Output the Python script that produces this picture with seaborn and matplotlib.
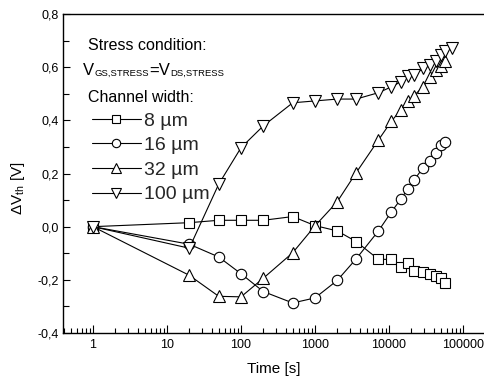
import numpy as np
import pandas as pd
import matplotlib
matplotlib.use("Agg")
import matplotlib.pyplot as plt
import seaborn as sns
from matplotlib.ticker import FixedLocator, FuncFormatter, LogLocator, NullFormatter, MultipleLocator

sns.set_theme(style="white")
plt.rcParams['font.family'] = ['Liberation Sans', 'DejaVu Sans']
plt.rcParams['mathtext.fontset'] = 'custom'
plt.rcParams['mathtext.rm'] = 'Liberation Sans'
plt.rcParams['mathtext.it'] = 'Liberation Sans'

# ---- data (time in s, delta Vth in V) ----
t_8 = [1, 20, 50, 100, 200, 500, 1000, 2000, 3600, 7200, 10800, 14400, 18000, 21600,
       28800, 36000, 43200, 50400, 57600]
v_8 = [0.0, 0.015, 0.024, 0.024, 0.024, 0.038, 0.004, -0.016, -0.056, -0.123, -0.123,
       -0.150, -0.135, -0.165, -0.172, -0.179, -0.184, -0.194, -0.213]

t_16 = [1, 20, 50, 100, 200, 500, 1000, 2000, 3600, 7200, 10800, 14400, 18000, 21600,
        28800, 36000, 43200, 50400, 57600]
v_16 = [0.0, -0.066, -0.114, -0.177, -0.244, -0.287, -0.268, -0.202, -0.121, -0.016, 0.056,
        0.103, 0.143, 0.174, 0.221, 0.247, 0.276, 0.307, 0.318]

t_32 = [1, 20, 50, 100, 200, 500, 1000, 2000, 3600, 7200, 10800, 14400, 18000, 21600,
        28800, 36000, 43200, 50400, 57600]
v_32 = [0.0, -0.183, -0.262, -0.264, -0.194, -0.098, 0.003, 0.094, 0.203, 0.326, 0.397,
        0.439, 0.471, 0.492, 0.526, 0.562, 0.588, 0.603, 0.625]

t_100 = [1, 20, 50, 100, 200, 500, 1000, 2000, 3600, 7200, 10800, 14400, 18000, 21600,
         28800, 36000, 43200, 50400, 57600, 72000]
v_100 = [0.0, -0.081, 0.160, 0.297, 0.379, 0.466, 0.473, 0.480, 0.480, 0.504, 0.526,
         0.545, 0.567, 0.570, 0.595, 0.607, 0.625, 0.645, 0.660, 0.673]

labels = ["8 µm", "16 µm", "32 µm", "100 µm"]
markers = ["s", "o", "^", "v"]
msizes = [6.5, 7.5, 8.5, 8.5]
series = [(t_8, v_8), (t_16, v_16), (t_32, v_32), (t_100, v_100)]

W, H = 484, 381
fig = plt.figure(figsize=(W / 100, H / 100), dpi=100)
left, right, top, bottom = 63, 484, 14, 333
ax = fig.add_axes([left / W, 1 - bottom / H, (right - left) / W, (bottom - top) / H])

for (t, v), lab, mk, ms in zip(series, labels, markers, msizes):
    df = pd.DataFrame({"t": t, "v": v})
    sns.lineplot(data=df, x="t", y="v", ax=ax, color="black", lw=0.8, marker=mk,
                 markersize=ms, markerfacecolor="white", markeredgecolor="black",
                 markeredgewidth=0.8, label=lab, sort=False)

ax.set_xscale("log")
x0 = 10 ** (-30 / 74)
x1 = 10 ** ((484 - 93) / 74)
ax.set_xlim(x0, x1)
ax.set_ylim(-0.4, 0.8)

ax.xaxis.set_major_locator(FixedLocator([1, 10, 100, 1000, 10000, 100000]))
ax.xaxis.set_major_formatter(FuncFormatter(lambda x, p: f"{int(round(x))}"))
ax.xaxis.set_minor_locator(LogLocator(base=10, subs=np.arange(2, 10), numticks=20))
ax.xaxis.set_minor_formatter(NullFormatter())
ax.yaxis.set_major_locator(MultipleLocator(0.2))
ax.yaxis.set_minor_locator(MultipleLocator(0.1))
ax.yaxis.set_major_formatter(FuncFormatter(lambda y, p: f"{y:.1f}".replace(".", ",").replace("−", "-")))

ax.tick_params(axis="both", which="both", direction="in", color="black", labelsize=9,
               labelcolor="black")
ax.tick_params(axis="x", which="major", length=6, width=0.8, bottom=True, pad=4)
ax.tick_params(axis="x", which="minor", length=3.5, width=0.8, bottom=True)
ax.tick_params(axis="y", which="major", length=5, width=0.8, left=True, pad=3)
ax.tick_params(axis="y", which="minor", length=4, width=0.8, left=True)

for s in ["left", "bottom", "top"]:
    ax.spines[s].set_color("black")
    ax.spines[s].set_linewidth(1.0)
ax.spines["right"].set_visible(False)

ax.set_xlabel("Time [s]", fontsize=11, color="black")
ax.set_ylabel(r"ΔV$_{\mathrm{th}}$ [V]", fontsize=11, color="black")
ax.xaxis.set_label_coords(0.5, -0.09)
ax.yaxis.set_label_coords(-0.085, 0.455)

def ax_pos(px, py):
    return ((px - left) / (right - left), (bottom - py) / (bottom - top))

ax.text(*ax_pos(88, 45), "Stress condition:", fontsize=11.5, va="center", ha="left",
        transform=ax.transAxes, color="black")

# V_GS,STRESS = V_DS,STRESS built from pieces (small subscripts)
fig.canvas.draw()
renderer = fig.canvas.get_renderer()
xcur = 83.0
ybase = H - 75.0
pieces = [("V", 12, 0.0, 0.0), ("GS,STRESS", 6.8, -1.0, 0.3), ("=V", 12, 0.0, 0.3),
          ("DS,STRESS", 6.8, -1.0, 0.3)]
for s, size, dy, gap in pieces:
    txt = fig.text((xcur + gap) / W, (ybase + dy) / H, s, fontsize=size, va="baseline",
                   ha="left", color="black")
    xcur = txt.get_window_extent(renderer).x1

ax.text(*ax_pos(88, 97), "Channel width:", fontsize=11.5, va="center", ha="left",
        transform=ax.transAxes, color="black")

leg = ax.legend(loc="upper left", bbox_to_anchor=ax_pos(92, 112), frameon=False,
                fontsize=14, handlelength=2.5, handletextpad=0.2, labelspacing=0.36,
                borderaxespad=0, borderpad=0, markerscale=0.8)

fig.savefig("out.png", dpi=100)
